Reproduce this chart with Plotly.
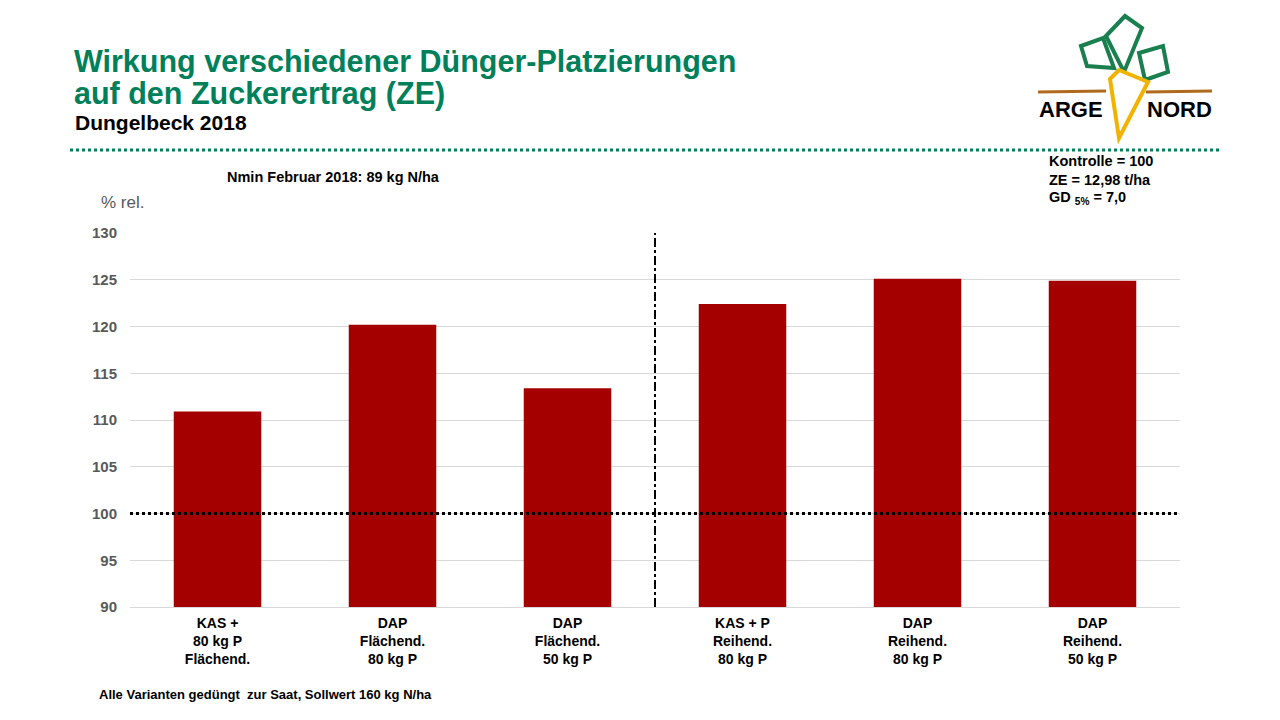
import plotly.graph_objects as go

categories = [
    "KAS +<br>80 kg P<br>Flächend.",
    "DAP<br>Flächend.<br>80 kg P",
    "DAP<br>Flächend.<br>50 kg P",
    "KAS + P<br>Reihend.<br>80 kg P",
    "DAP<br>Reihend.<br>80 kg P",
    "DAP<br>Reihend.<br>50 kg P",
]
values = [110.9, 120.2, 113.4, 122.4, 125.1, 124.9]
y_ticks = [90, 95, 100, 105, 110, 115, 120, 125, 130]
control_value = 100
info_lines = ["Kontrolle = 100", "ZE = 12,98 t/ha", "GD <sub>5%</sub> = 7,0"]

# page has an 8px body margin; figure sized to fit the 1280x720 window
OFF = 8
W, H = 1280 - OFF, 720 - OFF
L, T = 130 - OFF, 233 - OFF
R = W - (1180 - OFF)
B = H - (607 - OFF)
PW, PH = W - L - R, H - T - B


def px(x):
    return (x - OFF - L) / PW


def py(y):
    return (H - B - (y - OFF)) / PH


GREEN = "#00805A"
FONT = "Liberation Sans, Arial, sans-serif"

fig = go.Figure()
fig.add_trace(go.Bar(
    x=list(range(len(categories))),
    y=values,
    marker=dict(color="#A50000", line=dict(width=0)),
    width=0.5,
    hoverinfo="skip",
))

shapes = []
# reference line at 100
shapes.append(dict(type="line", xref="paper", yref="y", x0=0, x1=1,
                   y0=control_value, y1=control_value,
                   line=dict(color="black", width=3, dash="dot")))
# divider between Flächend. and Reihend.
shapes.append(dict(type="line", xref="x", yref="paper", x0=2.5, x1=2.5,
                   y0=0, y1=1, line=dict(color="black", width=2, dash="dashdot")))
# green dotted header line
shapes.append(dict(type="line", xref="paper", yref="paper",
                   x0=px(70), x1=px(1220), y0=py(150), y1=py(150),
                   line=dict(color=GREEN, width=3, dash="dot")))


def path(points, close=True):
    s = "M " + " L ".join(f"{px(a):.5f},{py(b):.5f}" for a, b in points)
    return s + (" Z" if close else "")


# logo: brown ground line
for x0, x1 in [(1038, 1106), (1146, 1212)]:
    shapes.append(dict(type="line", xref="paper", yref="paper",
                       x0=px(x0), x1=px(x1), y0=py(92), y1=py(91),
                       line=dict(color="#B06A1E", width=3)))
# leaves
leaves = [
    [(1081, 46), (1103, 38), (1114, 68), (1087, 66)],
    [(1106, 36), (1125, 16), (1142, 28), (1124, 72)],
    [(1139, 53), (1163, 46), (1168, 72), (1145, 80)],
]
for lf in leaves:
    shapes.append(dict(type="path", xref="paper", yref="paper", path=path(lf),
                       line=dict(color="#1A7F4E", width=4)))
# carrot
shapes.append(dict(type="path", xref="paper", yref="paper",
                   path=path([(1110, 79), (1119, 70), (1148, 82), (1119, 138)]),
                   fillcolor="white",
                   line=dict(color="#F2B300", width=4)))

annotations = [
    dict(text="<b>Wirkung verschiedener Dünger-Platzierungen</b>",
         x=px(72), y=py(62), xanchor="left", yanchor="middle", align="left",
         font=dict(family=FONT, size=30.5, color=GREEN)),
    dict(text="<b>auf den Zuckerertrag (ZE)</b>",
         x=px(72), y=py(93), xanchor="left", yanchor="middle", align="left",
         font=dict(family=FONT, size=30.5, color=GREEN)),
    dict(text="<b>Dungelbeck 2018</b>",
         x=px(73), y=py(123), xanchor="left", yanchor="middle", align="left",
         font=dict(family=FONT, size=21, color="black")),
    dict(text="<b>Nmin Februar 2018: 89 kg N/ha</b>",
         x=px(225), y=py(177), xanchor="left", yanchor="middle",
         font=dict(family=FONT, size=14.5, color="black")),
    dict(text="% rel.",
         x=px(99), y=py(203), xanchor="left", yanchor="middle",
         font=dict(family=FONT, size=17, color="#595959")),
    dict(text="<b>Alle Varianten gedüngt  zur Saat, Sollwert 160 kg N/ha</b>",
         x=px(97), y=py(694), xanchor="left", yanchor="middle",
         font=dict(family=FONT, size=13, color="black")),
    dict(text="<b>ARGE</b>", x=px(1071), y=py(109), xanchor="center", yanchor="middle",
         font=dict(family=FONT, size=22, color="black")),
    dict(text="<b>NORD</b>", x=px(1179), y=py(109), xanchor="center", yanchor="middle",
         font=dict(family=FONT, size=22, color="black")),
]
for line, yy in zip(info_lines, [161, 180, 198]):
    annotations.append(dict(text=f"<b>{line}</b>", x=px(1047), y=py(yy),
                            xanchor="left", yanchor="middle", align="left",
                            font=dict(family=FONT, size=14.5, color="black")))
for a in annotations:
    a.update(xref="paper", yref="paper", showarrow=False)

fig.update_layout(
    width=W, height=H,
    margin=dict(l=L, r=R, t=T, b=B, pad=0),
    paper_bgcolor="white", plot_bgcolor="white",
    showlegend=False,
    bargap=0.5,
    shapes=shapes,
    annotations=annotations,
    xaxis=dict(
        tickmode="array", tickvals=list(range(len(categories))), ticktext=categories,
        range=[-0.5, len(categories) - 0.5],
        showgrid=False, zeroline=False,
        showline=True, linecolor="#D9D9D9", linewidth=1,
        ticks="", ticklabelstandoff=3,
        tickfont=dict(family=FONT, size=14, color="black", weight="bold"),
    ),
    yaxis=dict(
        range=[90, 130], tickvals=y_ticks,
        showgrid=True, gridcolor="#D9D9D9", gridwidth=1,
        zeroline=False, showline=False, ticks="", ticklabelstandoff=12,
        tickfont=dict(family=FONT, size=15, color="#595959", weight="bold"),
    ),
)

fig.write_html("out.html")
